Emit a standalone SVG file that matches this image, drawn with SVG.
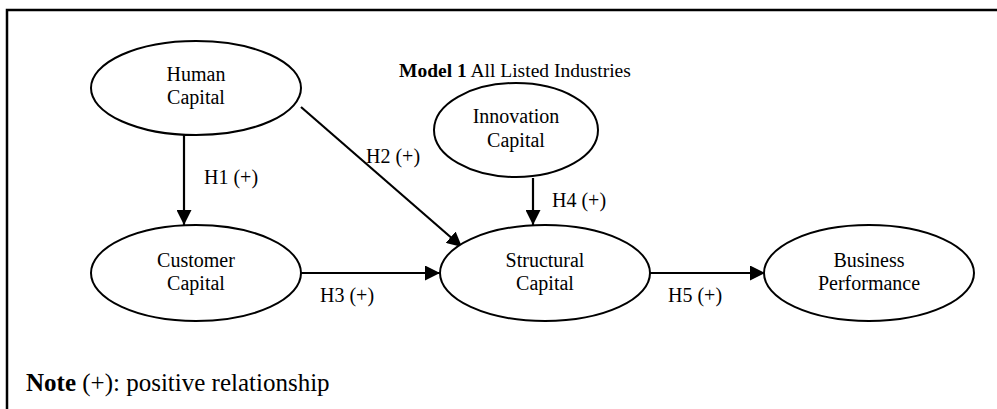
<svg xmlns="http://www.w3.org/2000/svg" width="997" height="409" viewBox="0 0 997 409">
<style>
text{font-family:"Liberation Serif","Times New Roman",serif;font-size:20px;fill:#000}
.node ellipse{fill:#fff;stroke:#000;stroke-width:2}
.node text{text-anchor:middle}
.conn line{stroke:#000;stroke-width:2.2;marker-end:url(#ah)}
</style>
<defs>
<marker id="ah" markerUnits="userSpaceOnUse" markerWidth="15" markerHeight="15" viewBox="0 0 15 15" refX="15" refY="7.5" orient="auto">
<path d="M0,0 L15,7.5 L0,15 Z" fill="#000"/>
</marker>
</defs>
<rect x="0" y="0" width="997" height="409" fill="#fff"/>
<rect id="frame" x="7" y="10" width="1000" height="420" fill="none" stroke="#000" stroke-width="2.5"/>
<text id="title" x="399" y="77" style="font-size:19.5px"><tspan font-weight="bold">Model 1</tspan> All Listed Industries</text>
<g id="conn" class="conn">
<line x1="184" y1="134" x2="184" y2="225"/>
<line x1="301" y1="107" x2="462" y2="247"/>
<line x1="301" y1="273" x2="440" y2="273"/>
<line x1="533" y1="178" x2="533" y2="225"/>
<line x1="649" y1="273" x2="765" y2="273"/>
</g>
<g id="labels">
<text x="204" y="184">H1 (+)</text>
<text x="366" y="163">H2 (+)</text>
<text x="320" y="302">H3 (+)</text>
<text x="552" y="207">H4 (+)</text>
<text x="668" y="302">H5 (+)</text>
</g>
<g id="human" class="node"><ellipse cx="196" cy="88" rx="105" ry="47"/><text x="196" y="81">Human</text><text x="196" y="104">Capital</text></g>
<g id="innovation" class="node"><ellipse cx="516" cy="130" rx="82" ry="47"/><text x="516" y="123">Innovation</text><text x="516" y="147">Capital</text></g>
<g id="customer" class="node"><ellipse cx="196" cy="273" rx="105" ry="48"/><text x="196" y="267">Customer</text><text x="196" y="290">Capital</text></g>
<g id="structural" class="node"><ellipse cx="545" cy="273" rx="105" ry="48"/><text x="545" y="267">Structural</text><text x="545" y="290">Capital</text></g>
<g id="business" class="node"><ellipse cx="869" cy="273" rx="105" ry="48"/><text x="869" y="267">Business</text><text x="869" y="290">Performance</text></g>
<text id="note" x="26" y="391" style="font-size:25px"><tspan font-weight="bold">Note</tspan> (+): positive relationship</text>
</svg>
